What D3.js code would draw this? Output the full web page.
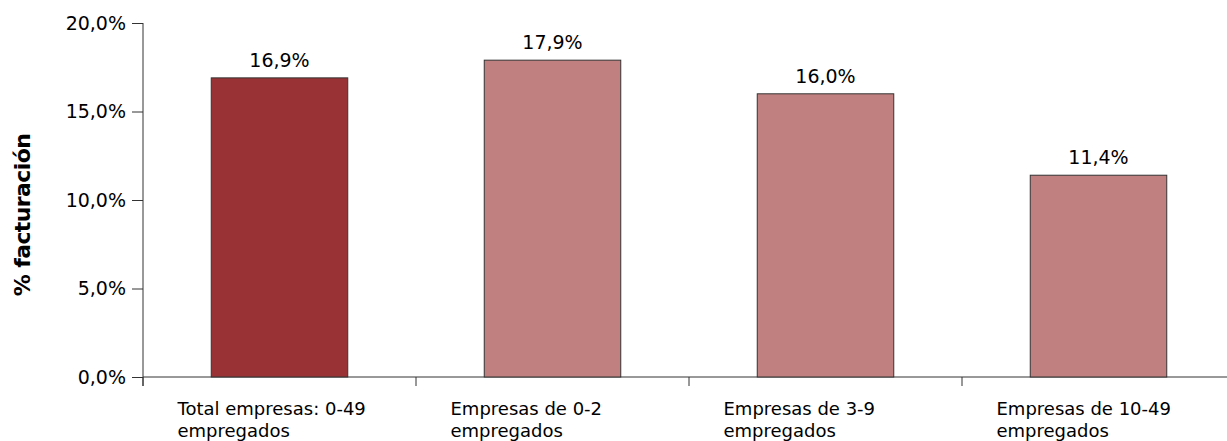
<!DOCTYPE html>
<html>
<head>
<meta charset="utf-8">
<script src="https://cdn.jsdelivr.net/npm/d3@7"></script>
<style>
  body { margin: 0; background: #fff; }
  svg { display: block; font-family: "DejaVu Sans", Verdana, sans-serif; }
</style>
</head>
<body>
<div id="chart"></div>
<script>
// Chart data
var categories = ["Total empresas: 0-49 empregados", "Empresas de 0-2 empregados",
                  "Empresas de 3-9 empregados", "Empresas de 10-49 empregados"];
var labelLines = [["Total empresas: 0-49", "empregados"], ["Empresas de 0-2", "empregados"],
                  ["Empresas de 3-9", "empregados"], ["Empresas de 10-49", "empregados"]];
var values = [0.169, 0.179, 0.160, 0.114];
var yTicks = [0, 0.05, 0.10, 0.15, 0.20];
var yTitle = "% facturación";

var width = 1227, height = 441;
// plot area (note: "top" clashes with window.top, so use plot_*)
var plot_left = 143, plot_right = 1235, plot_top = 23, plot_bottom = 377;

// galician style numbers: comma decimal
var locale = d3.formatLocale({decimal: ",", thousands: ".", grouping: [3], currency: ["", "€"]});
var fmtAxis = locale.format(".1%");

var svg = d3.select("#chart").append("svg")
  .attr("width", width)
  .attr("height", height);

var x = d3.scaleBand()
  .domain(categories)
  .range([plot_left, plot_right])
  .paddingInner(0.5)
  .paddingOuter(0.25);

var y = d3.scaleLinear()
  .domain([0, 0.2])
  .range([plot_bottom, plot_top]);

// Y axis
var yAxis = svg.append("g")
  .attr("transform", "translate(" + plot_left + ",0)")
  .call(d3.axisLeft(y).tickValues(yTicks).tickFormat(fmtAxis).tickSize(11).tickPadding(6));
yAxis.select(".domain").attr("d", "M0," + plot_top + "V" + (plot_bottom + 9)).attr("stroke", "#333");
yAxis.selectAll(".tick line").attr("stroke", "#333");
yAxis.selectAll("text").attr("font-size", 19).attr("fill", "#000")
  .attr("font-family", "DejaVu Sans, sans-serif");

// X axis line with ticks at the band edges
var step = x.step();
svg.append("line")
  .attr("x1", plot_left).attr("x2", width)
  .attr("y1", plot_bottom).attr("y2", plot_bottom)
  .attr("stroke", "#333");
svg.selectAll(".xtick")
  .data(d3.range(categories.length + 1))
  .enter().append("line")
  .attr("class", "xtick")
  .attr("x1", function(i) { return plot_left + i * step; })
  .attr("x2", function(i) { return plot_left + i * step; })
  .attr("y1", plot_bottom).attr("y2", plot_bottom + 9)
  .attr("stroke", "#333");

// Bars
svg.selectAll(".bar")
  .data(values)
  .enter().append("rect")
  .attr("class", "bar")
  .attr("x", function(d, i) { return x(categories[i]); })
  .attr("width", x.bandwidth())
  .attr("y", function(d) { return y(d); })
  .attr("height", function(d) { return y(0) - y(d); })
  .attr("fill", function(d, i) { return i == 0 ? "#983234" : "#c0807f"; })
  .attr("stroke", "#333")
  .attr("stroke-width", 1);

// Value labels
svg.selectAll(".val")
  .data(values)
  .enter().append("text")
  .attr("class", "val")
  .attr("x", function(d, i) { return x(categories[i]) + x.bandwidth() / 2; })
  .attr("y", function(d) { return y(d) - 11; })
  .attr("text-anchor", "middle")
  .attr("font-size", 19)
  .text(function(d) { return fmtAxis(d); });

// Category labels (two lines, left aligned)
var cat = svg.selectAll(".cat")
  .data(labelLines)
  .enter().append("text")
  .attr("class", "cat")
  .attr("font-size", 18);
cat.selectAll("tspan")
  .data(function(d, i) { return d.map(function(t) { return {t: t, i: i}; }); })
  .enter().append("tspan")
  .attr("x", function(d) { return x(categories[d.i]) + x.bandwidth() / 2 - 102; })
  .attr("y", function(d, j) { return 415 + j * 22; })
  .text(function(d) { return d.t; });

// Y title
svg.append("text")
  .attr("transform", "translate(30," + ((plot_top + plot_bottom) / 2 + 15) + ") rotate(-90)")
  .attr("text-anchor", "middle")
  .attr("font-size", 22)
  .attr("font-weight", "bold")
  .attr("letter-spacing", -0.6)
  .text(yTitle);
</script>
</body>
</html>
